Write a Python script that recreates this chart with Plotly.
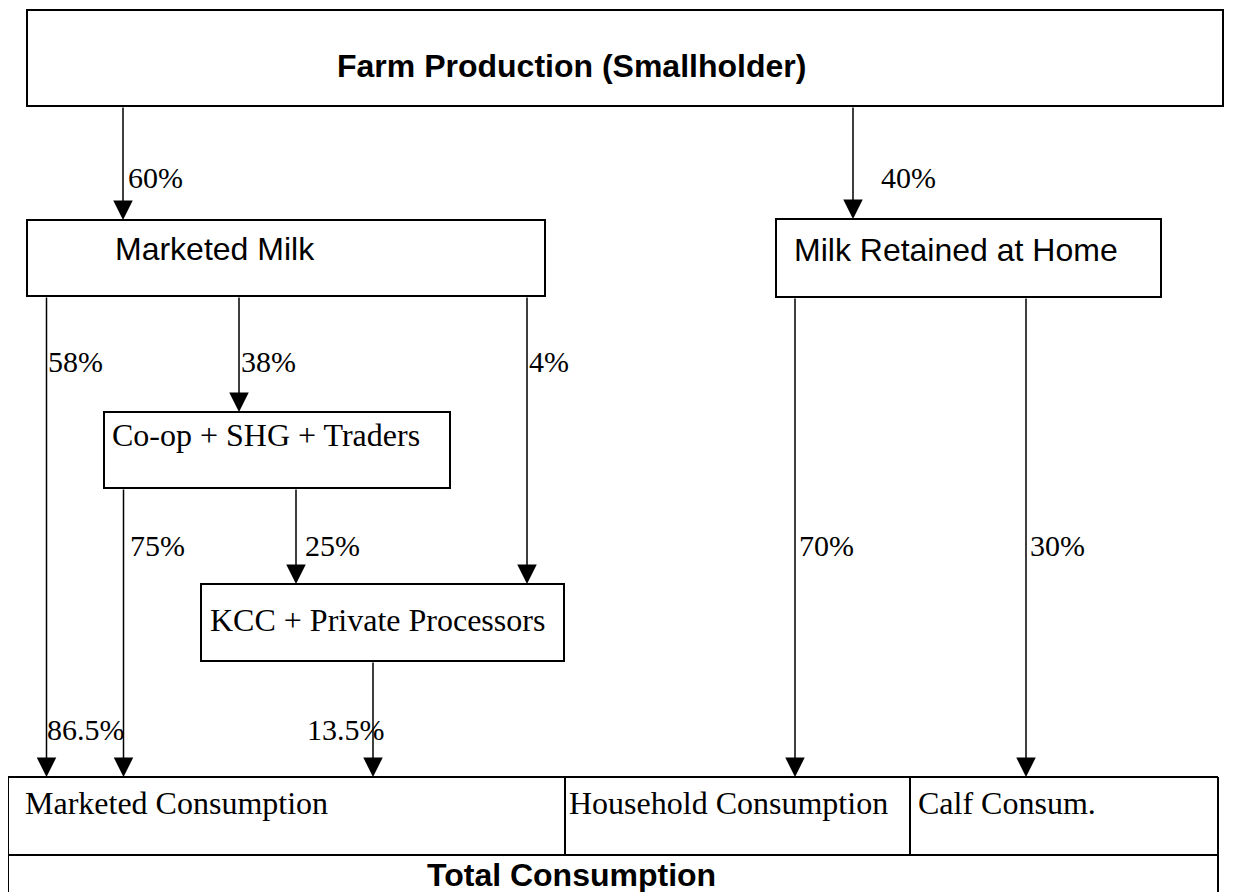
import plotly.graph_objects as go

# ---------------- data ----------------
node_ids = ["farm", "marketed", "retained", "coop", "kcc", "mcons", "hcons", "ccons", "total"]
node_labels = ["Farm Production (Smallholder)", "Marketed Milk", "Milk Retained at Home",
               "Co-op + SHG + Traders", "KCC + Private Processors",
               "Marketed Consumption", "Household Consumption", "Calf Consum.", "Total Consumption"]

flow_source = ["farm", "farm", "marketed", "marketed", "marketed", "coop", "coop", "kcc", "retained", "retained"]
flow_target = ["marketed", "retained", "mcons", "coop", "kcc", "mcons", "kcc", "mcons", "hcons", "ccons"]
flow_pct = ["60%", "40%", "58%", "38%", "4%", "75%", "25%", "13.5%", "70%", "30%"]

share_label = "86.5%"  # combined share of marketed consumption

# ---------------- layout (pixel geometry, y downward) ----------------
W, H = 1239, 892
OFF = 8    # page body margin of the html page
PAD = 3    # annotation inner padding compensation
boxes = {
    "farm":     dict(x0=27,  x1=1223, y0=10,  y1=106),
    "marketed": dict(x0=27,  x1=545,  y0=220, y1=296),
    "retained": dict(x0=776, x1=1161, y0=219, y1=297),
    "coop":     dict(x0=104, x1=450,  y0=412, y1=488),
    "kcc":      dict(x0=201, x1=564,  y0=584, y1=661),
    "mcons":    dict(x0=8,   x1=565,  y0=777, y1=855),
    "hcons":    dict(x0=565, x1=910,  y0=777, y1=855),
    "ccons":    dict(x0=910, x1=1218, y0=777, y1=855),
    "total":    dict(x0=8,   x1=1218, y0=855, y1=905),
}
ARIAL = "Liberation Sans, Arial, sans-serif"
TIMES = "Liberation Serif, Times New Roman, serif"
text_pos = {
    "farm":     (571, 66,  "center", ARIAL, True),
    "marketed": (116, 249, "left",   ARIAL, False),
    "retained": (795, 250, "left",   ARIAL, False),
    "coop":     (113, 435, "left",   TIMES, False),
    "kcc":      (211, 620, "left",   TIMES, False),
    "mcons":    (26,  803, "left",   TIMES, False),
    "hcons":    (570, 803, "left",   TIMES, False),
    "ccons":    (919, 803, "left",   TIMES, False),
    "total":    (571, 875, "center", ARIAL, True),
}
arrow_x = [123, 853, 46.5, 239, 527, 123.5, 296, 373, 795, 1026]
label_xy = [(129, 177), (882, 177), (49, 361), (242, 361), (530, 361),
            (131, 545), (306, 545), (308, 729), (800, 545), (1031, 545)]
share_xy = (48, 729)

fig = go.Figure()
fig.add_trace(go.Scatter(x=[OFF, W + OFF], y=[OFF, H + OFF], mode="markers",
                         marker=dict(opacity=0), hoverinfo="skip", showlegend=False))

LC = "#000000"
for nid in ["farm", "marketed", "retained", "coop", "kcc"]:
    b = boxes[nid]
    fig.add_shape(type="rect", xref="x", yref="y", x0=b["x0"], x1=b["x1"], y0=b["y0"], y1=b["y1"],
                  line=dict(color=LC, width=2), fillcolor="white", layer="above")

bl, br = boxes["mcons"]["x0"], boxes["ccons"]["x1"]
top, mid = boxes["mcons"]["y0"], boxes["mcons"]["y1"]
table_lines = [
    (bl, top, br, top), (bl, mid, br, mid),
    (bl, top, bl, H + 20), (br, top, br, H + 20),
    (boxes["hcons"]["x0"], top, boxes["hcons"]["x0"], mid),
    (boxes["ccons"]["x0"], top, boxes["ccons"]["x0"], mid),
]
for (x0, y0, x1, y1) in table_lines:
    fig.add_shape(type="line", xref="x", yref="y", x0=x0, y0=y0, x1=x1, y1=y1,
                  line=dict(color=LC, width=2), layer="above")

for s, t, ax in zip(flow_source, flow_target, arrow_x):
    y_start = boxes[s]["y1"]
    y_end = boxes[t]["y0"]
    fig.add_annotation(x=ax, y=y_end, ax=ax, ay=y_start, xref="x", yref="y", axref="x", ayref="y",
                       text="", showarrow=True, arrowhead=2, arrowsize=2.6, arrowwidth=1.5,
                       arrowcolor=LC, standoff=0, startstandoff=0)

for lab, (lx, ly) in zip(flow_pct, label_xy):
    fig.add_annotation(x=lx - PAD, y=ly, xref="x", yref="y", text=lab, showarrow=False,
                       xanchor="left", yanchor="middle",
                       font=dict(family=TIMES, size=30, color=LC))
fig.add_annotation(x=share_xy[0] - PAD, y=share_xy[1], xref="x", yref="y", text=share_label,
                   showarrow=False, xanchor="left", yanchor="middle",
                   font=dict(family=TIMES, size=30, color=LC))

for nid, lab in zip(node_ids, node_labels):
    tx, ty, anc, fam, bold = text_pos[nid]
    fig.add_annotation(x=tx - (PAD if anc == "left" else 0), y=ty, xref="x", yref="y",
                       text=f"<b>{lab}</b>" if bold else lab, showarrow=False,
                       xanchor=anc, yanchor="middle",
                       font=dict(family=fam, size=32, color=LC))

fig.update_layout(
    width=W, height=H, margin=dict(l=0, r=0, t=0, b=0),
    paper_bgcolor="white", plot_bgcolor="white", showlegend=False,
    xaxis=dict(range=[OFF, W + OFF], visible=False, fixedrange=True),
    yaxis=dict(range=[H + OFF, OFF], visible=False, fixedrange=True),
)

fig.write_html("out.html")
